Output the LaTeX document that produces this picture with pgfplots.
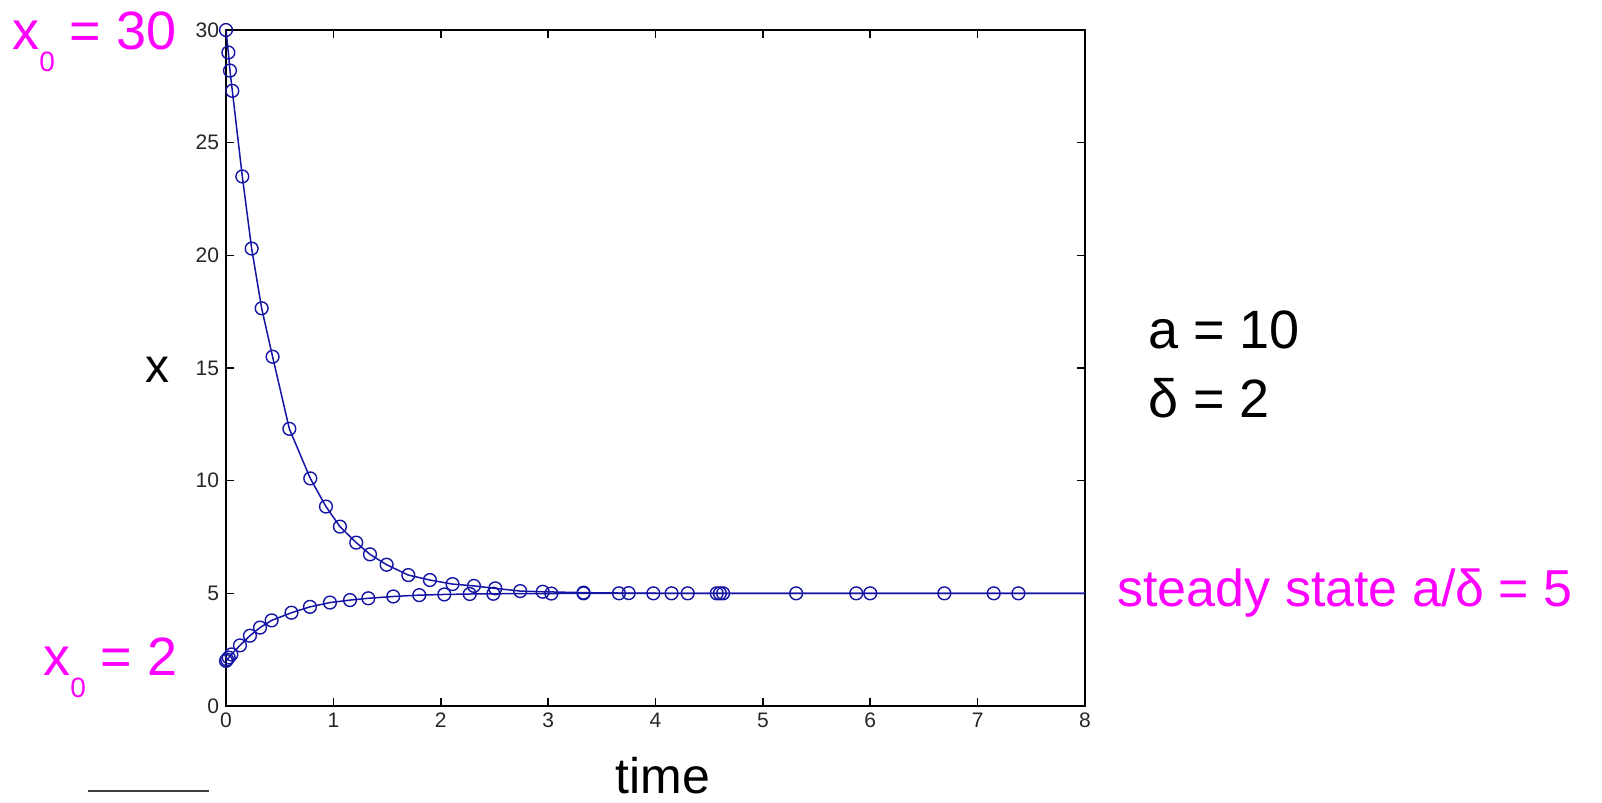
\documentclass[border=0pt]{standalone}
\usepackage{pgfplots}
\usepackage{pgfplotstable}
\pgfplotsset{compat=1.18}
\usepackage{fontspec}
\setmainfont{Liberation Sans}
\definecolor{matblue}{RGB}{20,20,165}
\definecolor{mag}{RGB}{255,0,255}

% decay from x0 = 30 (ODE solver steps)
\pgfplotstableread{
t x
0     30.0
0.022 29.0
0.037 28.2
0.059 27.3
0.152 23.5
0.239 20.3
0.332 17.65
0.434 15.5
0.590 12.3
0.785 10.1
0.931 8.85
1.061 7.96
1.213 7.25
1.341 6.73
1.496 6.27
1.698 5.81
1.899 5.59
2.110 5.41
2.309 5.33
2.508 5.22
2.740 5.10
2.950 5.07
3.330 5.03
3.750 5.01
4.150 5.00
4.600 5.00
5.310 5.00
6.000 5.00
7.150 5.00
8.600 5.00
}\decaydata

% rise from x0 = 2
\pgfplotstableread{
t x
0     2.00
0.010 2.06
0.025 2.15
0.050 2.29
0.130 2.69
0.223 3.12
0.317 3.48
0.425 3.80
0.610 4.14
0.782 4.40
0.968 4.59
1.155 4.70
1.325 4.78
1.558 4.86
1.800 4.92
2.033 4.95
2.270 4.97
2.490 4.98
3.030 4.99
3.330 5.00
3.660 5.00
3.980 5.00
4.300 5.00
4.570 5.00
4.630 5.00
5.870 5.00
6.690 5.00
7.380 5.00
8.600 5.00
}\risedata

\begin{document}
\begin{tikzpicture}
\useasboundingbox (-113pt,-48.5pt) rectangle (688pt,353pt);
\begin{axis}[
  at={(0,0)}, anchor=south west,
  scale only axis, width=429.5pt, height=338pt,
  xmin=0, xmax=8, ymin=0, ymax=30,
  xtick={0,1,...,8}, ytick={0,5,...,30},
  tick align=inside, major tick length=4pt,
  axis line style={line width=0.8pt},
  tick style={black, line width=0.8pt},
  tick label style={font=\fontsize{10.5}{12}\selectfont, text=black!85},
  /pgf/number format/assume math mode=true,
]
\addplot[matblue, line width=0.75pt, mark=o, mark size=3.2pt,
  mark options={line width=0.7pt}] table[x=t, y=x] {\decaydata};
\addplot[matblue, line width=0.75pt, mark=o, mark size=3.2pt,
  mark options={line width=0.7pt}] table[x=t, y=x] {\risedata};
\end{axis}

\node[anchor=base west, inner sep=0, text=mag, font=\fontsize{27}{30}\selectfont]
  at (-107pt,328pt) {x\raisebox{-11pt}{\fontsize{14}{14}\selectfont 0} = 30};
\node[anchor=base west, inner sep=0, text=mag, font=\fontsize{27}{30}\selectfont]
  at (-91.5pt,15pt) {x\raisebox{-11pt}{\fontsize{14}{14}\selectfont 0} = 2};
\node[inner sep=0, font=\fontsize{24}{26}\selectfont] at (-34pt,168pt) {x};
\node[inner sep=0, font=\fontsize{25}{28}\selectfont] at (218.5pt,-35pt) {time};
\node[anchor=base west, inner sep=0, font=\fontsize{27}{30}\selectfont]
  at (461pt,178.5pt) {a = 10};
\node[anchor=base west, inner sep=0, font=\fontsize{27}{30}\selectfont]
  at (461pt,144pt) {δ = 2};
\node[anchor=base west, inner sep=0, text=mag, font=\fontsize{26}{28}\selectfont]
  at (445.5pt,49.5pt) {steady state a/δ = 5};
\draw[black!75, line width=1.2pt] (-69pt,-42.5pt) -- (-8.5pt,-42.5pt);
\end{tikzpicture}
\end{document}
